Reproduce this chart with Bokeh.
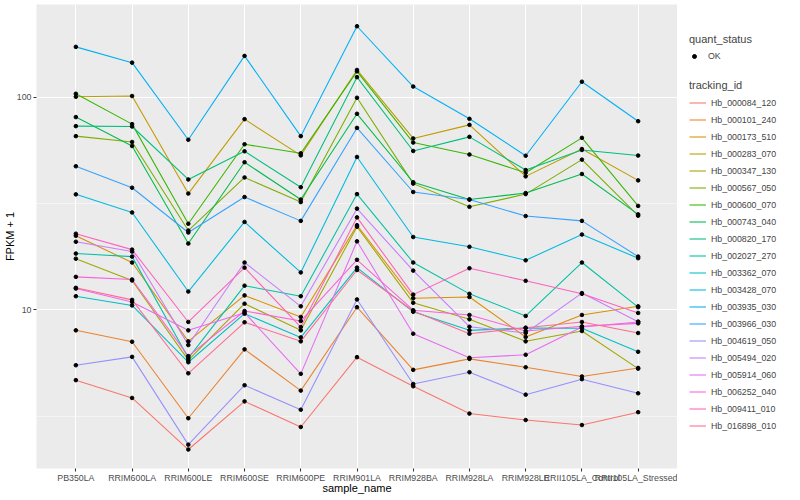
from bokeh.plotting import figure
from bokeh.layouts import row
from bokeh.models import (Range1d, FactorRange, FixedTicker, BasicTickFormatter,
                          Legend, LegendItem, ColumnDataSource)
from bokeh.embed import file_html
from bokeh.resources import INLINE

samples = ["PB350LA", "RRIM600LA", "RRIM600LE", "RRIM600SE", "RRIM600PE",
           "RRIM901LA", "RRIM928BA", "RRIM928LA", "RRIM928LE",
           "RRII105LA_Control", "RRII105LA_Stressed"]

tracking_ids = ["Hb_000084_120", "Hb_000101_240", "Hb_000173_510", "Hb_000283_070",
                "Hb_000347_130", "Hb_000567_050", "Hb_000600_070", "Hb_000743_040",
                "Hb_000820_170", "Hb_002027_270", "Hb_003362_070", "Hb_003428_070",
                "Hb_003935_030", "Hb_003966_030", "Hb_004619_050", "Hb_005494_020",
                "Hb_005914_060", "Hb_006252_040", "Hb_009411_010", "Hb_016898_010"]

colors = ["#F8766D", "#EA8331", "#D89000", "#C09B00", "#A3A500", "#7CAE00", "#39B600",
          "#00BB4E", "#00BF7D", "#00C1A3", "#00BFC4", "#00BAE0", "#00B0F6", "#35A2FF",
          "#9590FF", "#C77CFF", "#E76BF3", "#FA62DB", "#FF62BC", "#FF6C91"]

# FPKM + 1 per sample (order of `samples`)
Hb_000084_120 = [4.68, 3.86, 2.21, 3.72, 2.82, 6.00, 4.38, 3.26, 3.04, 2.88, 3.31]
Hb_000101_240 = [8.02, 7.09, 3.10, 6.53, 4.18, 10.3, 5.23, 5.89, 5.38, 4.87, 5.34]
Hb_000173_510 = [22.3, 16.7, 7.12, 11.7, 9.27, 25.0, 11.35, 11.5, 7.46, 9.47, 10.4]
Hb_000283_070 = [100.3, 101.1, 35.2, 78.7, 53.2, 134, 63.9, 74.0, 42.4, 57.0, 40.6]
Hb_000347_130 = [17.4, 13.75, 5.81, 10.7, 8.02, 24.6, 10.8, 9.04, 7.12, 7.96, 5.30]
Hb_000567_050 = [65.5, 61.5, 23.6, 41.9, 32.1, 99.2, 39.2, 30.5, 35.0, 50.8, 27.7]
Hb_000600_070 = [103.6, 74.6, 25.4, 60.0, 54.4, 132, 61.1, 53.7, 44.1, 64.3, 30.8]
Hb_000743_040 = [80.5, 58.9, 20.5, 49.4, 33.0, 83.4, 39.8, 33.0, 35.4, 43.5, 28.1]
Hb_000820_170 = [73.0, 72.7, 41.0, 55.6, 37.7, 124, 55.8, 65.0, 45.4, 56.4, 53.1]
Hb_002027_270 = [18.4, 17.8, 5.94, 13.0, 11.6, 35.0, 16.7, 11.9, 9.37, 16.7, 10.3]
Hb_003362_070 = [11.6, 10.5, 5.68, 9.60, 7.43, 15.8, 9.80, 8.02, 8.23, 8.20, 6.36]
Hb_003428_070 = [34.9, 28.7, 12.2, 25.9, 15.0, 52.3, 22.0, 19.8, 17.1, 22.6, 17.5]
Hb_003935_030 = [172, 145, 63.0, 156, 65.5, 215, 112, 79.0, 53.0, 118, 77.0]
Hb_003966_030 = [47.3, 37.5, 23.1, 33.9, 26.2, 71.6, 35.8, 33.0, 27.6, 26.2, 17.8]
Hb_004619_050 = [5.50, 6.02, 2.33, 4.43, 3.40, 11.2, 4.49, 5.10, 4.00, 4.73, 4.06]
Hb_005494_020 = [20.9, 18.8, 6.84, 16.7, 10.4, 29.9, 15.3, 8.34, 7.79, 12.0, 8.81]
Hb_005914_060 = [12.6, 10.9, 8.02, 9.71, 5.01, 21.0, 7.73, 5.96, 6.16, 8.31, 8.78]
Hb_006252_040 = [14.3, 13.9, 6.07, 9.89, 8.87, 17.2, 9.97, 9.47, 7.96, 8.38, 8.65]
Hb_009411_010 = [22.8, 19.2, 8.78, 15.8, 8.31, 27.2, 11.8, 15.7, 13.7, 11.9, 9.68]
Hb_016898_010 = [12.7, 11.15, 5.04, 8.75, 7.12, 15.4, 9.89, 7.73, 8.25, 8.78, 7.79]

series = [Hb_000084_120, Hb_000101_240, Hb_000173_510, Hb_000283_070, Hb_000347_130,
          Hb_000567_050, Hb_000600_070, Hb_000743_040, Hb_000820_170, Hb_002027_270,
          Hb_003362_070, Hb_003428_070, Hb_003935_030, Hb_003966_030, Hb_004619_050,
          Hb_005494_020, Hb_005914_060, Hb_006252_040, Hb_009411_010, Hb_016898_010]

y_ticks = [10, 100]
y_minor = [10 ** 0.5, 10 ** 1.5]

FONT = "Liberation Sans"
H = 496
NAN = float("nan")

p = figure(x_range=FactorRange(factors=samples, range_padding=0.2, range_padding_units="absolute"),
           y_range=Range1d(1.80, 272), y_axis_type="log",
           width=677, height=H, output_backend="svg", toolbar_location=None,
           min_border_left=30, min_border_right=0, min_border_top=4, min_border_bottom=10)

p.background_fill_color = "#EBEBEB"
p.border_fill_color = "white"
p.outline_line_color = None

ticker = FixedTicker(ticks=y_ticks, minor_ticks=y_minor)
p.yaxis.ticker = ticker
p.ygrid.ticker = ticker
p.yaxis.formatter = BasicTickFormatter()

for g in (p.xgrid, p.ygrid):
    g.grid_line_color = "white"
    g.grid_line_width = 1.07
p.ygrid.minor_grid_line_color = "white"
p.ygrid.minor_grid_line_width = 0.53
p.xgrid.minor_grid_line_color = None

for ax in (p.xaxis, p.yaxis):
    ax.axis_line_color = None
    ax.major_tick_line_color = "#333333"
    ax.major_tick_line_width = 1.07
    ax.major_tick_out = 3
    ax.major_tick_in = 0
    ax.minor_tick_line_color = None
    ax.major_label_text_font = FONT
    ax.major_label_text_font_size = "8.8px"
    ax.major_label_text_color = "#4D4D4D"
    ax.major_label_standoff = 1
    ax.axis_label_text_font = FONT
    ax.axis_label_text_font_size = "11px"
    ax.axis_label_text_font_style = "normal"
    ax.axis_label_text_color = "black"
    ax.axis_label_standoff = 0
p.xaxis.axis_label_standoff = -4
p.yaxis.axis_label_standoff = -2

p.xaxis.axis_label = "sample_name"
p.yaxis.axis_label = "FPKM + 1"

for col, vals in zip(colors, series):
    src = ColumnDataSource(dict(x=samples, y=vals))
    p.line("x", "y", source=src, line_color=col, line_width=1.07)

all_x, all_y = [], []
for vals in series:
    all_x.extend(samples)
    all_y.extend(vals)
p.scatter(x=all_x, y=all_y, size=3.6, color="black")

# legend panel (key renderers hold only NaN, so nothing is drawn in the panel itself)
lp = figure(width=107, height=H, output_backend="svg", toolbar_location=None,
            x_axis_location=None, y_axis_location=None,
            x_range=Range1d(0, 1), y_range=Range1d(0, 1), min_border=0)
lp.outline_line_color = None
lp.xgrid.visible = False
lp.ygrid.visible = False
key_lines = [lp.line(x=[NAN, NAN], y=[NAN, NAN], line_color=c, line_width=1.07) for c in colors]
key_pt = lp.scatter(x=[NAN], y=[NAN], size=3.6, color="black")


def style_legend(leg):
    leg.title_text_font = FONT
    leg.title_text_font_size = "11px"
    leg.title_text_font_style = "normal"
    leg.title_standoff = 3
    leg.label_text_font = FONT
    leg.label_text_font_size = "8.8px"
    leg.glyph_width = 17
    leg.glyph_height = 17
    leg.label_height = 17
    leg.label_standoff = 5
    leg.spacing = 0
    leg.padding = 0
    leg.margin = 0
    leg.border_line_color = None
    leg.background_fill_alpha = 0


leg1 = Legend(items=[LegendItem(label="OK", renderers=[key_pt])], title="quant_status",
              location=(12, 404))
style_legend(leg1)
leg1.glyph_width = 10
leg1.glyph_height = 10
leg1.label_standoff = 9
leg1.title_standoff = 2

leg2 = Legend(items=[LegendItem(label=t, renderers=[r]) for t, r in zip(tracking_ids, key_lines)],
              title="tracking_id", location=(12, 34))
style_legend(leg2)
lp.add_layout(leg1)
lp.add_layout(leg2)

layout = row(p, lp)
open("out.html", "w").write(file_html(layout, INLINE))
